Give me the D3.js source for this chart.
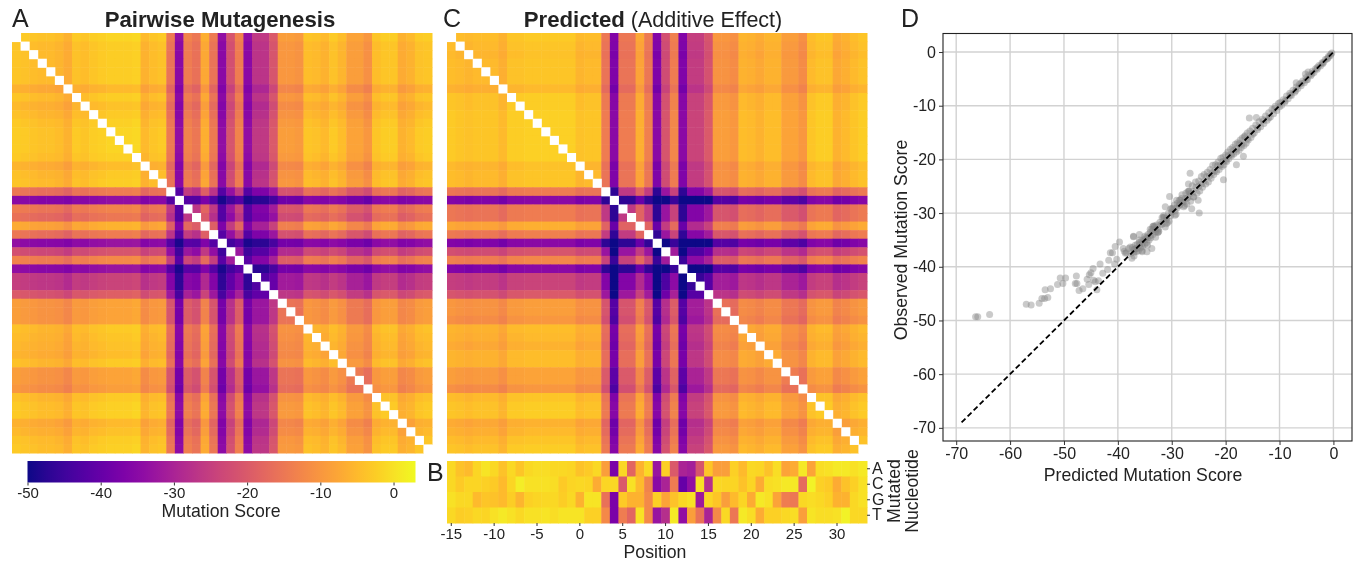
<!DOCTYPE html>
<html>
<head>
<meta charset="utf-8">
<script src="https://cdn.jsdelivr.net/npm/d3@7"></script>
<style>
  body { margin: 0; background: #fff; }
  svg { display: block; filter: blur(0.4px); }
  text { font-family: "Liberation Sans", Arial, sans-serif; fill: #222; }
  .axis path { display: none; }
  .axis line { stroke: #333; }
  .axis text { font-size: 15px; fill: #222; }
</style>
</head>
<body>
<svg width="1356" height="561"></svg>
<script>
const positions = d3.range(-15, 34);
const nucleotides = ['A', 'C', 'G', 'T'];
const positionTicks = [-15, -10, -5, 0, 5, 10, 15, 20, 25, 30];
const colorTicks = [-50, -40, -30, -20, -10, 0];
const scatterTicks = [-70, -60, -50, -40, -30, -20, -10, 0];

//Panel B (pos -15 to 33)
const scoresA = [-1,-4,-5,-1.5,0.5,-1,-4,-1,-3.5,-1,-0.5,-0.5,-1,-1,-1.5,-4,-3,-1,-9,-37,-1,-18,-6,-1,-33,-2,-20,-30,-31,-21,-3.5,-9,-9,-2,-5,-1,-1.5,-4,-0.5,-8,-7,1,-8,-0.5,0,1,1,0,1];
const scoresC = [-1,-3,-1.5,-1.5,-2,-3,-5,-1.5,1.5,0,0,0,-0.5,-3,-1.5,-1,-1.5,-7,-1.5,-1,-20,0,-5,-13,-35,-30,-14,-40,-34,0,-28,-1,-1.5,-1.5,-4,-1.5,-7,-0.5,0,1,1,-17,2,-2,-3,-7,-4,-2,0];
const scoresG = [0,-1,-1,-5,-3.5,-4,-5,-2.5,-5.5,-2,-1.5,-1,-1,-2.5,-1,-6,0.5,0.5,-16,-37,-3,-6,-6,-12,-2,-8,-4,-1,0,-32,-1.5,-3.5,-9,-5,-1.5,-7,1,0,-8,-14,-15,-1,-0.5,-1,-2,-6,-6,-1,0];
const scoresT = [-1,-2.5,-2,-1,-1.5,0,1,0,-1,0,0,0.5,-0.5,0.5,0.5,0.5,-2,-2,-12,-37,-14,-18,0,-12,-33,-28,1,-34,-9,-16,-30,-12,-1,-15,1,-0.5,-7,-2,-2,-1,-0.5,-9,0.5,-0.5,-0.5,0,2,-1,-1];

//Panels A and C are read as one score per position along each edge of the heatmap
const rowEffectA = [-0.5,-1.5,-1.5,-1.5,-1.5,-1.5,-4,-1.5,-3,-2,-1,-0.5,-0.5,-0.5,-1,-3.5,-2,-1.5,-13,-33,-12,-14,-5,-13,-32,-20,-11,-32,-23,-23,-18,-7,-7,-7,-2,-2.5,-3,-3.5,-2,-7,-7,-8,-2,-1,-1,-4,-3,-1.5,-1];
const colEffectA = [-2,-2.5,-3,-3.5,-3.5,-4,-5.5,-2.5,-3,-2,-1.5,-1,-1,-1,-0.5,-4.5,-3,-2.5,-14,-33.5,-12.5,-14.5,-6,-14,-33.5,-20.5,-12.5,-33.5,-25.5,-25.5,-19.5,-8.5,-8.5,-9,-3,-3.5,-4.5,-2.5,-4,-7.5,-7.5,-9.5,-3,-2,-2,-5.5,-4.5,-2.5,-2];
const effectC = [-2,-2.5,-3,-2.5,-2.5,-2.5,-4,-1.5,-1.5,-1,-1,-1,-1,-1,-1,-3,-2.5,-2.5,-13,-34,-13,-13,-5.5,-12.5,-34,-20,-11.5,-34,-23,-23,-19,-8,-8,-9,-3.5,-4,-5,-3.5,-3.5,-7,-7,-9,-2.5,-1.5,-1.5,-5,-4,-2.5,-1.5];

//How far the observed scores fall short of the additive ones
const lookupPredicted = [-100, -66, -57, -50, -45, -40, -35, 10];
const lookupObserved = [-52, -49, -47, -43, -42, -37.5, -35, 10];

//Panel D, predicted and observed mutation score of each point
const predictedScores = [-0.3,-0.6,-0.9,-1.2,-1.5,-1.8,-2.1,-2.4,-2.7,-3,-3.3,-3.6,-3.9,-4.2,-4.5,-4.8,-5.1,-5.4,-5.7,-6,-6.3,-6.6,-6.9,-7.2,-7.5,-7.8,-8.1,-8.4,-8.7,-9,-9.3,-9.6,-9.9,-5.2,-4.7,-6.9,
  -10.2,-10.5,-10.8,-11.1,-11.4,-11.7,-12,-12.3,-12.6,-12.9,-13.2,-13.5,-13.8,-14.1,-14.4,-14.7,-15,
  -15.3,-15.5,-15.8,-16,-16.2,-16.4,-16.6,-16.9,-17.1,-17.3,-17.5,-17.8,-18,-18.2,-18.5,-18.7,-18.9,-19.1,-19.4,-19.6,-19.8,-20,-20.3,-20.5,-20.7,-20.9,-21.2,-21.4,-21.7,-21.9,-22.2,-22.4,-22.7,-22.9,-23.2,-23.4,-23.7,-24,-24.3,-24.5,-24.8,-25,-25.3,-25.6,-25.9,
  -26.2,-26.5,-26.8,-27.1,-27.4,-27.8,-28.2,-28.6,-29,-29.4,-29.8,-30.2,-30.6,-31,-31.4,-31.8,-32.2,-32.5,-32.8,
  -33,-33.2,-33.5,-33.7,-33.9,-34,-34.2,-34.4,-34.6,-34.8,-35,-35.2,-35.4,-35.6,-35.8,-36,-36.2,-36.4,-36.6,-36.8,-37,-37.3,-37.6,-38,-38.4,-38.8,
  -15.6,-14.3,-26.6,-16.7,-18,-20.4,-24.9,-30.4,-31.2,-28.1,-29.1,-26.3,-27.2,-31.2,-37.1,-36,-26.9,-25.1,
  -66.4,-66,-63.8,-57,-56.1,-54.6,-54.1,-53.6,-53,-53.5,-52.5,-51.2,-50.2,-50.7,-49.7,-47.9,-47.6,-47.7,-47.2,-46.5,-45.4,-45.7,-45.3,-45,-44.6,-44.5,-44.2,-43.6,-43.9,-43.3,-42.8,-41.7,-41.9,-41.4,-41,-40.5,-39.7,-40.2,-40.6,-39,-38.6,-37.4,-37.1,-37.7,-36.8,-33.7,-34.6,-35.5,
  -0.5,-1,-2,-3,-4,-5,-6,-7,-8,-9,-10,-11,-12,-13,-14,-15,-16,-16.5,-17,-17.5,-18,-18.5,-19,-19.5,-20,-20.5,-21,-21.5,-22,-22.5,-23,-23.5,-24,-24.5,-25,-25.5,-26,-26.5,-27,-27.5,-28,-28.5,-29,-30,-31,-32,-33,-33.5,-34,-34.5,-35,-35.5,-36,-36.5,-37,-34,-35,-36,-34.5,-33,-35.5,-37,
  -26,-26.8,-27.6,-28.4,-29.2,-30,-30.8,-31.6,-32.4,-33.2,-27,-27.8,-28.6,-29.4,-30.2,-31,-31.8,-32.6,-33.4,-29.5,-30.5,-31.5,-32.5,-33.5];
const observedScores = [-0.2,-0.7,-0.8,-1.3,-1.4,-1.9,-2,-2.6,-2.5,-3.2,-3.1,-3.8,-3.6,-4.4,-4.3,-5.1,-4.8,-5.7,-5.4,-6.3,-6,-6.8,-6.5,-7.5,-7.1,-8.1,-7.7,-8.7,-8.2,-9.3,-8.9,-9.9,-9.4,-4.1,-3.7,-5.7,
  -9.6,-10.9,-10.1,-11.5,-10.7,-12.1,-11.3,-12.7,-11.9,-13.3,-12.5,-13.9,-13,-14.5,-13.6,-15.1,-14.2,
  -15.9,-14.7,-16.4,-15.1,-17,-15.6,-17.4,-16,-17.8,-16.4,-18.3,-16.9,-18.6,-17.2,-19,-17.8,-19.3,-18.1,-19.9,-18.6,-20.4,-19.2,-21,-19.6,-21.3,-19.8,-21.9,-20.5,-22.3,-21,-22.8,-21.1,-23.5,-21.9,-24.2,-22.4,-24.6,-22.8,-25.2,-23.2,-25.9,-24,-26.3,-24.2,-27,
  -24.9,-27.8,-25.9,-27.2,-26.3,-28,-27.3,-28.6,-28.2,-29.6,-29.1,-30.5,-30,-31.3,-30.8,-32.1,-31.7,-33,-32.2,
  -33.5,-32.6,-34,-33,-34.6,-33.6,-35,-34,-35.5,-34.5,-35.8,-34.9,-36.2,-35.2,-36.5,-35.5,-37,-35.8,-37.2,-36,-37.3,-36.4,-37.5,-36.6,-37.4,-37.1,
  -12.3,-12.2,-22.6,-19.4,-21,-23.8,-30,-26.9,-28.8,-26.6,-27.6,-29.2,-28.3,-32.6,-34.4,-34,-24.6,-27.6,
  -49.3,-49.3,-48.9,-47,-47.1,-46.8,-45.9,-45.9,-45.7,-44.3,-44.1,-43.3,-43.1,-42.1,-42.1,-43.1,-43.1,-41.7,-44.4,-44.1,-43.3,-42.3,-41.5,-41.1,-40.3,-42.5,-42.8,-42.6,-44.3,-39.5,-41.2,-38.8,-40.5,-37.4,-37.4,-36.2,-35.4,-38.6,-39.5,-36.6,-37.5,-38.4,-34.3,-36.3,-36.7,-36.6,-37.2,-37.2,
  -0.4,-1.1,-2.2,-2.9,-4.1,-5.2,-5.8,-7.2,-8,-9.1,-10.2,-10.6,-12.3,-12.8,-14.1,-15.3,-16.2,-15.8,-17.2,-17.1,-18,-18.3,-19.1,-19.3,-20.2,-20.4,-21.1,-21.2,-22.1,-22.5,-23.1,-23.2,-24,-24.6,-25,-25.2,-26,-26.3,-27.1,-27.3,-27.9,-28.4,-29,-29.8,-30.9,-32.1,-33,-33.2,-34.2,-34.6,-35,-35.6,-36,-36.6,-36.8,-33,-34.3,-35,-36,-34.5,-37,-38,
  -27,-26,-28.6,-27.6,-30.2,-29.2,-31.8,-30.8,-33.4,-32.4,-26,-28.8,-27.6,-30.4,-29.2,-32,-30.8,-33.6,-32.4,-28.5,-31.5,-30.5,-33.5,-32.5];
const diagonalLine = [-69, 0];

const svg = d3.select('svg');
const colorScale = d3.scaleSequential([-50, 3], d3.interpolatePlasma);
const observedLookup = d3.scaleLinear().domain(lookupPredicted).range(lookupObserved);
const tickText = d => String(d);   //plain hyphen for the minus sign
const seam = 0.5;   //cells overlap a little so no white lines show between them

//Square heatmap, the diagonal stays white
const drawPairHeatmap = (left, top, size, rowEffect, colEffect, toValue) => {
    const band = d3.scaleBand().domain(positions).range([0, size]);
    const g = svg.append('g').attr('transform', `translate(${left}, ${top})`);
    const cells = d3.cross(positions, positions).filter(([r, c]) => r !== c);
    g.selectAll('.cell').data(cells)
        .enter().append('rect')
        .attr('class', 'cell')
        .attr('x', d => band(d[1]))
        .attr('y', d => band(d[0]))
        .attr('width', band.bandwidth() + seam)
        .attr('height', band.bandwidth() + seam)
        .attr('fill', ([r, c]) => colorScale(toValue(rowEffect[r + 15] + colEffect[c + 15])));
    g.selectAll('.diagonal').data(positions)
        .enter().append('rect')
        .attr('class', 'diagonal')
        .attr('x', d => band(d))
        .attr('y', d => band(d))
        .attr('width', band.bandwidth() + seam)
        .attr('height', band.bandwidth() + seam)
        .attr('fill', '#fff');
}

const title = (x, bold, rest) => {
    const t = svg.append('text').attr('x', x).attr('y', 27).attr('text-anchor', 'middle').style('font-size', '22.2px');
    t.append('tspan').style('font-weight', 'bold').text(bold);
    if (rest) t.append('tspan').style('font-size', '21.5px').text(rest);
}

const label = (x, y, text, size = 17.7, rotate = false, anchor = 'middle') => {
    svg.append('text')
        .attr('transform', `translate(${x}, ${y})${rotate ? ' rotate(-90)' : ''}`)
        .attr('text-anchor', anchor)
        .style('font-size', size + 'px')
        .text(text);
}

drawPairHeatmap(12, 33, 420, rowEffectA, colEffectA, d => observedLookup(d));
drawPairHeatmap(447, 33, 420, effectC, effectC, d => d);

title(220, 'Pairwise Mutagenesis');
title(653, 'Predicted', ' (Additive Effect)');
[['A', 12, 27], ['C', 443, 27], ['D', 901, 27], ['B', 427, 481]].forEach(d => label(d[1], d[2], d[0], 25, false, 'start'));

//Colorbar
const colorAxisScale = d3.scaleLinear().domain([-50, 3]).range([27.5, 415.5]);
const gradient = svg.append('defs').append('linearGradient').attr('id', 'plasma');
gradient.selectAll('stop').data(d3.range(0, 1.01, 0.05))
    .enter().append('stop')
    .attr('offset', d => d)
    .attr('stop-color', d => d3.interpolatePlasma(d));
svg.append('rect')
    .attr('x', 27.5).attr('y', 461).attr('width', 388).attr('height', 21.5)
    .attr('fill', 'url(#plasma)');
svg.append('g').attr('class', 'axis').attr('transform', 'translate(0, 482.5)')
    .call(d3.axisBottom(colorAxisScale).tickValues(colorTicks).tickFormat(tickText).tickSize(3).tickPadding(2));
label(221, 517, 'Mutation Score');

//Panel B
const bLeft = 447, bRight = 867, bTop = 461, bBottom = 523;
const bx = d3.scaleBand().domain(positions).range([bLeft, bRight]);
const by = d3.scaleBand().domain(nucleotides).range([bTop, bBottom]);
[scoresA, scoresC, scoresG, scoresT].forEach((scores, i) => {
    svg.append('g').selectAll('rect').data(scores)
        .enter().append('rect')
        .attr('x', (_d, j) => bx(positions[j]))
        .attr('y', by(nucleotides[i]))
        .attr('width', bx.bandwidth() + seam)
        .attr('height', by.bandwidth() + seam)
        .attr('fill', d => colorScale(d));
});
svg.append('g').attr('class', 'axis').attr('transform', `translate(0, ${bBottom})`)
    .call(d3.axisBottom(bx).tickValues(positionTicks).tickFormat(tickText).tickSize(3).tickPadding(2));
svg.append('g').attr('class', 'axis').attr('transform', `translate(${bRight}, 0)`)
    .call(d3.axisRight(by).tickSize(3).tickPadding(2))
    .selectAll('text').style('font-size', '16px');
label(655, 558, 'Position');
label(900, 491, 'Mutated', 17.7, true);
label(918, 491, 'Nucleotide', 17.7, true);

//Panel D
const x = d3.scaleLinear().domain([-72.45, 3.45]).range([943, 1352]);
const y = d3.scaleLinear().domain([-72.45, 3.45]).range([441, 33.5]);

const grid = svg.append('g').attr('stroke', '#d2d2d2').attr('stroke-width', 1.4);
grid.selectAll('.gx').data(scatterTicks).enter().append('line').attr('class', 'gx')
    .attr('x1', d => x(d)).attr('x2', d => x(d)).attr('y1', y.range()[0]).attr('y2', y.range()[1]);
grid.selectAll('.gy').data(scatterTicks).enter().append('line').attr('class', 'gy')
    .attr('y1', d => y(d)).attr('y2', d => y(d)).attr('x1', x.range()[0]).attr('x2', x.range()[1]);

svg.append('g').selectAll('circle').data(predictedScores)
    .enter().append('circle')
    .attr('cx', d => x(d))
    .attr('cy', (_d, i) => y(observedScores[i]))
    .attr('r', 3.5)
    .attr('fill', '#808080')
    .attr('fill-opacity', 0.42);

svg.append('line')
    .attr('x1', x(diagonalLine[0])).attr('y1', y(diagonalLine[0]))
    .attr('x2', x(diagonalLine[1])).attr('y2', y(diagonalLine[1]))
    .attr('stroke', '#000').attr('stroke-width', 1.8).attr('stroke-dasharray', '5.5 3');

svg.append('rect')
    .attr('x', 943).attr('y', 33.5).attr('width', 409).attr('height', 407.5)
    .attr('fill', 'none').attr('stroke', '#222').attr('stroke-width', 1.1);

svg.append('g').attr('class', 'axis').attr('transform', 'translate(0, 441)')
    .call(d3.axisBottom(x).tickValues(scatterTicks).tickFormat(tickText).tickSize(4).tickPadding(3))
    .selectAll('text').style('font-size', '16px');
svg.append('g').attr('class', 'axis').attr('transform', 'translate(943, 0)')
    .call(d3.axisLeft(y).tickValues(scatterTicks).tickFormat(tickText).tickSize(4).tickPadding(3))
    .selectAll('text').style('font-size', '16px');
label(1143, 481, 'Predicted Mutation Score');
label(907, 240, 'Observed Mutation Score', 17.7, true);
</script>
</body>
</html>
